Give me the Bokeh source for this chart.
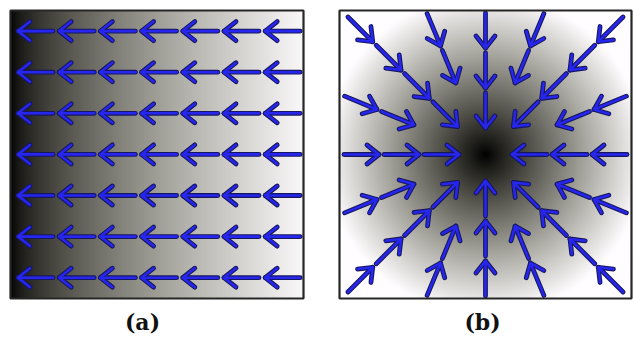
import numpy as np
from bokeh.plotting import figure
from bokeh.models import Range1d
from bokeh.embed import file_html
from bokeh.resources import INLINE
from bokeh.core.properties import value

# ---------------- data ----------------
# panel (a): uniform field, 7 x 7 arrows all pointing towards -x
A_ROWS = [0, 1, 2, 3, 4, 5, 6]
A_COLS = [0, 1, 2, 3, 4, 5, 6]
A_DIR_DEG = 180.0

# panel (b): radial field pointing to the centre; arrows along 16 rays
B_AXIS_ANGLES = [0, 90, 180, 270]
B_AXIS_RADII = [44, 84, 124]
B_DIAG_ANGLES = [45, 135, 225, 315]
B_DIAG_RADII = [57, 97, 137, 177]
B_MID_ANGLES = [22.5, 67.5, 112.5, 157.5, 202.5, 247.5, 292.5, 337.5]
B_MID_RADII = [95, 135]

PANEL_LABELS = ["(a)", "(b)"]

# ---------------- layout ----------------
W, H = 633, 338


def dx(px):
    return px


def dy(py):
    return H - py


A_BOX = (10, 10, 303, 298)   # left, top, right, bottom (page px)
B_BOX = (339, 10, 631, 298)
ARROW_LEN = 35.0
HEAD_LEN = 12.0
HEAD_HW = 9.5

p = figure(width=W, height=H, x_range=Range1d(0, W), y_range=Range1d(0, H),
           x_axis_type=None, y_axis_type=None, toolbar_location=None,
           output_backend="svg", min_border=0, outline_line_color=None)
p.grid.visible = False
p.background_fill_color = "white"
p.border_fill_color = "white"


def rgba_image(v):
    h, w = v.shape
    img = np.empty((h, w), dtype=np.uint32)
    view = img.view(dtype=np.uint8).reshape((h, w, 4))
    view[:, :, 0] = np.clip(v * 255, 0, 255).astype(np.uint8)
    view[:, :, 1] = np.clip(v * 253, 0, 255).astype(np.uint8)
    view[:, :, 2] = np.clip(v * 255 * (0.86 + 0.14 * v), 0, 255).astype(np.uint8)
    view[:, :, 3] = 255
    return img


# gradient (a): black on the left to white on the right
aw, ah = A_BOX[2] - A_BOX[0], A_BOX[3] - A_BOX[1]
t = (np.arange(aw) + 0.5) / aw
va = np.tile(np.clip(t, 0, 1) ** 0.65 * 0.98, (ah, 1))
p.image_rgba(image=[rgba_image(va)], x=dx(A_BOX[0]), y=dy(A_BOX[3]), dw=aw, dh=ah)

# gradient (b): black in the centre, white outwards
bw, bh = B_BOX[2] - B_BOX[0], B_BOX[3] - B_BOX[1]
yy, xx = np.mgrid[0:bh, 0:bw]
rr = np.hypot(xx + 0.5 - bw / 2, yy + 0.5 - bh / 2)
vb = np.clip(rr / 160.0, 0, 1) ** 0.9
p.image_rgba(image=[rgba_image(vb)], x=dx(B_BOX[0]), y=dy(B_BOX[3]), dw=bw, dh=bh)


def arrow_lines(cx, cy, ux, uy):
    tipx, tipy = cx + ux * ARROW_LEN / 2, cy + uy * ARROW_LEN / 2
    tailx, taily = cx - ux * ARROW_LEN / 2, cy - uy * ARROW_LEN / 2
    nx, ny = -uy, ux
    bx, by = tipx - ux * HEAD_LEN, tipy - uy * HEAD_LEN
    shaft = ([tailx, tipx], [taily, tipy])
    head = ([bx + nx * HEAD_HW, tipx, bx - nx * HEAD_HW],
            [by + ny * HEAD_HW, tipy, by - ny * HEAD_HW])
    return [shaft, head]


xs, ys = [], []
# panel (a)
ua = np.cos(np.radians(A_DIR_DEG))
va_ = np.sin(np.radians(A_DIR_DEG))
for r in A_ROWS:
    for c in A_COLS:
        px = A_BOX[0] + 25 + c * 41.2
        py = A_BOX[1] + 20.6 + r * 41.1
        for lx, ly in arrow_lines(dx(px), dy(py), ua, va_):
            xs.append(lx)
            ys.append(ly)

# panel (b)
bcx = dx((B_BOX[0] + B_BOX[2]) / 2)
bcy = dy((B_BOX[1] + B_BOX[3]) / 2)
for angles, radii in ((B_AXIS_ANGLES, B_AXIS_RADII),
                      (B_DIAG_ANGLES, B_DIAG_RADII),
                      (B_MID_ANGLES, B_MID_RADII)):
    for ang in angles:
        cs, sn = np.cos(np.radians(ang)), np.sin(np.radians(ang))
        for rad in radii:
            for lx, ly in arrow_lines(bcx + rad * cs, bcy + rad * sn, -cs, -sn):
                xs.append(lx)
                ys.append(ly)

p.multi_line(xs=xs, ys=ys, line_color="#17175e", line_width=4.8,
             line_cap="round", line_join="round")
p.multi_line(xs=xs, ys=ys, line_color="#2626ee", line_width=2.6,
             line_cap="round", line_join="round")

# frames
for box in (A_BOX, B_BOX):
    p.quad(left=[dx(box[0])], right=[dx(box[2])], top=[dy(box[1])], bottom=[dy(box[3])],
           fill_color=None, line_color="#262626", line_width=2.2)

# labels
p.text(x=[dx(142), dx(482)], y=[dy(321), dy(321)], text=PANEL_LABELS,
       text_font=value("DejaVu Serif"), text_font_style="bold", text_font_size="22px",
       text_align="center", text_baseline="middle", text_color="#111111")

open("out.html", "w").write(file_html(p, INLINE))
